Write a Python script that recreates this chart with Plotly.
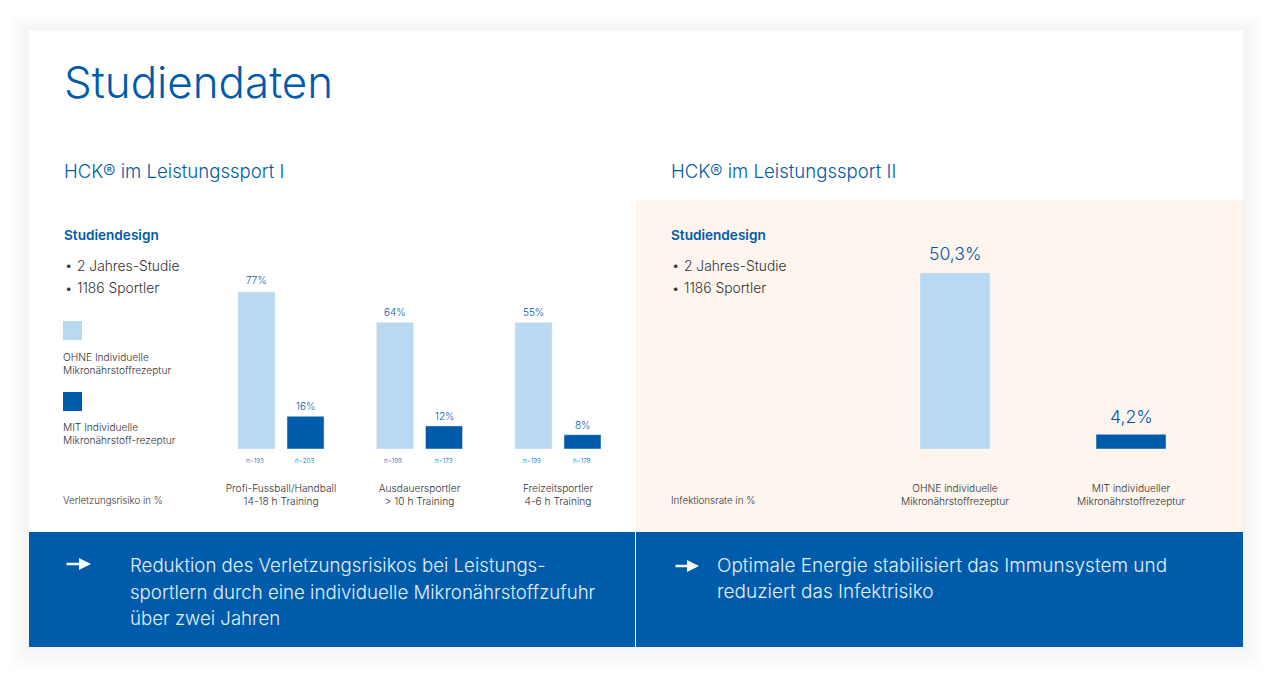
import plotly.graph_objects as go

W = 1272
H = 676
BLUE = '#005bab'
LIGHT = '#b9d9f3'
PEACH = '#fdf5ee'
GREY = '#333333'
FONT = 'Inter'

# left chart, heights (drawn bars do not follow the printed %)
groups = ['Profi-Fussball/Handball<br>14-18 h Training', 'Ausdauersportler<br>> 10 h Training', 'Freizeitsportler<br>4-6 h Training']
ohne = [77, 62, 62]
mit = [16, 11.3, 7]
ohne_labels = ['77%', '64%', '55%']
mit_labels = ['16%', '12%', '8%']
ohne_n = ['n=193', 'n=199', 'n=199']
mit_n = ['n=203', 'n=173', 'n=178']

# right chart
infekt_cats = ['OHNE individuelle<br>Mikronährstoffrezeptur', 'MIT individueller<br>Mikronährstoffrezeptur']
infekt_vals = [50.3, 4.2]
infekt_labels = ['50,3%', '4,2%']
infekt_colors = [LIGHT, BLUE]

design = ['2 Jahres-Studie', '1186 Sportler']
left_lines = ['Reduktion des Verletzungsrisikos bei Leistungs-', 'sportlern durch eine individuelle Mikronährstoffzufuhr', 'über zwei Jahren']
right_lines = ['Optimale Energie stabilisiert das Immunsystem und', 'reduziert das Infektrisiko']


def px(x):
	return x / W


def py(y):
	return 1 - y / H


def label(x, y, text, size=10, color=GREY, anchor='left', weight=300):
	fig.add_annotation(xref='paper', yref='paper', x=px(x), y=py(y), text=text, showarrow=False,
		xanchor=anchor, yanchor='middle', align=anchor, borderpad=0, borderwidth=0,
		font=dict(family=FONT, size=size, color=color, weight=weight))


def box(x0, y0, x1, y1, color, opacity=1):
	fig.add_shape(type='rect', xref='paper', yref='paper', x0=px(x0), x1=px(x1), y0=py(y0), y1=py(y1),
		fillcolor=color, opacity=opacity, line_width=0, layer='below')


def bar_label(axis, cat, val, text, size, gap):
	fig.add_annotation(xref=axis[0], yref=axis[1], x=cat, y=val, text=text, showarrow=False,
		xshift=axis[2], yshift=gap, borderwidth=0, font=dict(family=FONT, size=size, color=BLUE, weight=300))


def arrow(x0, x1, y):
	fig.add_annotation(xref='paper', yref='paper', axref='pixel', ayref='pixel', x=px(x1), y=py(y), ax=x0 - x1, ay=0,
		text='', showarrow=True, arrowhead=2, arrowsize=1, arrowwidth=2.4, arrowcolor='#f2f8fd')


fig = go.Figure()

fig.add_trace(go.Bar(x=groups, y=ohne, marker_color=LIGHT, xaxis='x', yaxis='y'))
fig.add_trace(go.Bar(x=groups, y=mit, marker_color=BLUE, xaxis='x', yaxis='y'))
fig.add_trace(go.Bar(x=infekt_cats, y=infekt_vals, marker_color=infekt_colors, xaxis='x2', yaxis='y2',
	offsetgroup='infekt', width=70 / 176))

# shadow round the card
for i in range(12):
	box(29 - 1.7 * i, 30 - 1.5 * i, 1243 + 1.7 * i, 647 + 2 * i, '#000000', 0.0045)
box(29, 30, 1243, 647, '#ffffff')
box(636, 200, 1243, 532, PEACH)
box(29, 532, 1243, 647, BLUE)
box(635, 532, 636, 647, '#ffffff')
box(63, 321, 82, 340, LIGHT)
box(63, 392, 82, 411, BLUE)

label(64, 82, 'Studiendaten', 43.9, BLUE)
label(64, 171, 'HCK® im Leistungssport I', 18.6, BLUE)
label(671, 171, 'HCK® im Leistungssport II', 18.6, BLUE)

for x in [64, 671]:
	label(x, 235, 'Studiendesign', 13.6, BLUE, weight=600)
	for i in range(len(design)):
		label(x + 1, 265 + 23 * i, '•', 13, GREY)
		label(x + 12.5, 265.5 + 22.5 * i, design[i], 13.8, GREY)

label(63, 363, 'OHNE Individuelle<br>Mikronährstoffrezeptur', 10.2)
label(63, 434, 'MIT Individuelle<br>Mikronährstoff-rezeptur', 10.2)
label(63, 500, 'Verletzungsrisiko in %', 9.7)
label(671, 500, 'Infektionsrate in %', 9.8)

for i in range(len(groups)):
	bar_label(('x', 'y', -24.5), groups[i], ohne[i], ohne_labels[i], 10, 12 if i == 0 else 10.5)
	bar_label(('x', 'y', 24.5), groups[i], mit[i], mit_labels[i], 10, 10)
	bar_label(('x', 'y', -26.5), groups[i], 0, ohne_n[i], 6.3, -12)
	bar_label(('x', 'y', 24), groups[i], 0, mit_n[i], 6.3, -12)
for i in range(len(infekt_cats)):
	bar_label(('x2', 'y2', 0), infekt_cats[i], infekt_vals[i], infekt_labels[i], 17.6, 19 if i == 0 else 18)

for i in range(len(left_lines)):
	label(130, 565 + 26.5 * i, left_lines[i], 18.65, '#e3f0fb')
for i in range(len(right_lines)):
	label(717, 565 + 26.5 * i, right_lines[i], 19, '#e3f0fb')
arrow(65, 91, 564)
arrow(674, 699, 566)

axis_font = dict(family=FONT, size=10.2, color=GREY, weight=300)
fig.update_layout(
	width=W, height=H, margin=dict(l=0, r=0, t=0, b=0),
	paper_bgcolor='#ffffff', plot_bgcolor='rgba(0,0,0,0)',
	showlegend=False, barmode='group', bargap=0.292, bargroupgap=0.245,
	xaxis=dict(domain=[px(211.75), px(627.25)], anchor='y', showgrid=False, showline=False, ticks='',
		ticklabelstandoff=32, tickfont=axis_font),
	yaxis=dict(domain=[py(449), py(285.8)], range=[0, 80], visible=False),
	xaxis2=dict(domain=[px(867), px(1219)], anchor='y2', showgrid=False, showline=False, ticks='',
		ticklabelstandoff=32, tickfont=axis_font),
	yaxis2=dict(domain=[py(449), py(260)], range=[0, 54], visible=False),
)

fig.write_html("out.html", config={'displayModeBar': False},
	post_script="document.body.style.margin='0';document.body.style.overflow='hidden';")
